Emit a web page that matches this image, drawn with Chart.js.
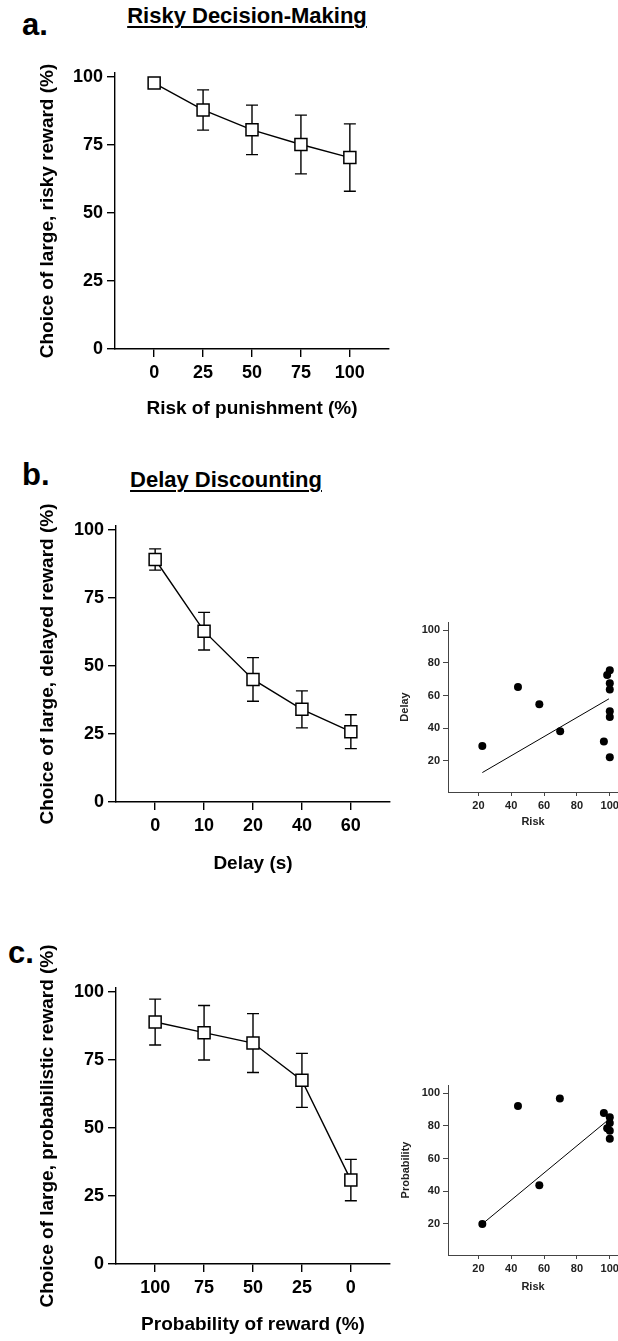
<!DOCTYPE html>
<html>
<head>
<meta charset="utf-8">
<script src="https://cdn.jsdelivr.net/npm/chart.js@4.4.1/dist/chart.umd.min.js"></script>
<style>
  html, body { margin: 0; padding: 0; background: #fff; width: 618px; height: 1341px; overflow: hidden; position: relative; }
  body { font-family: 'Liberation Sans', Arial, sans-serif; }
  canvas { position: absolute; }
  .lbl { position: absolute; font-weight: bold; line-height: 1; white-space: nowrap; color: #000; }
  .panel { font-size: 31px; }
  .title { font-size: 22px; text-decoration: underline; text-decoration-thickness: 2px; text-underline-offset: 3px; transform: translateX(-50%); }
</style>
</head>
<body>
<div class="lbl panel" style="left:22px;top:9px">a.</div>
<div class="lbl title" style="left:247px;top:5px">Risky Decision-Making</div>
<div class="lbl panel" style="left:22px;top:459px">b.</div>
<div class="lbl title" style="left:226px;top:469px">Delay Discounting</div>
<div class="lbl panel" style="left:8px;top:937px">c.</div>

<canvas id="risk-chart" width="400" height="380" style="left:0;top:50px"></canvas>
<canvas id="delay-chart" width="400" height="380" style="left:0;top:500px"></canvas>
<canvas id="prob-chart" width="400" height="401" style="left:0;top:940px"></canvas>
<canvas id="delay-scatter" width="250" height="230" style="left:390px;top:610px"></canvas>
<canvas id="prob-scatter" width="250" height="230" style="left:390px;top:1075px"></canvas>

<script>
const Y_TICKS = [0, 25, 50, 75, 100];

const RISK_LABELS = ['0', '25', '50', '75', '100'];
const RISK_MEAN = [97.8, 87.9, 80.6, 75.2, 70.4];
const RISK_SEM = [1.0, 7.4, 9.1, 10.8, 12.4];

const DELAY_LABELS = ['0', '10', '20', '40', '60'];
const DELAY_MEAN = [89.0, 62.7, 45.0, 34.0, 25.8];
const DELAY_SEM = [3.9, 6.9, 8.0, 6.8, 6.2];

const PROB_LABELS = ['100', '75', '50', '25', '0'];
const PROB_MEAN = [88.8, 84.9, 81.1, 67.4, 30.8];
const PROB_SEM = [8.4, 10.0, 10.8, 9.9, 7.6];

// scatter insets: risk score vs delay / probability score
const SCATTER_TICKS = [20, 40, 60, 80, 100];
const DELAY_RISK_X = [22.4, 44.1, 57.1, 69.8, 96.4, 98.4, 100, 100, 100, 100, 100, 100];
const DELAY_RISK_Y = [29.2, 65.3, 54.7, 38.2, 31.9, 72.6, 75.5, 67.6, 63.7, 50.4, 46.9, 22.3];
const DELAY_FIT_X = [22.4, 99.5];
const DELAY_FIT_Y = [12.9, 58.0];

const PROB_RISK_X = [22.4, 44.1, 69.6, 57.1, 96.4, 100, 100, 98.4, 100, 100];
const PROB_RISK_Y = [20.0, 92.2, 96.7, 43.6, 87.8, 85.3, 81.7, 78.6, 77.0, 72.1];
const PROB_FIT_X = [22.4, 99.5];
const PROB_FIT_Y = [20.0, 84.0];

const FONT = "'Liberation Sans', Arial, sans-serif";
Chart.defaults.font.family = FONT;
Chart.defaults.color = '#000';

const errorBars = {
  id: 'errorBars',
  beforeDatasetsDraw(chart, args, opts) {
    if (!opts.sem) return;
    const { ctx, scales: { x, y } } = chart;
    const pts = chart.data.datasets[0].data;
    ctx.save();
    ctx.strokeStyle = '#000';
    ctx.lineWidth = 1.4;
    pts.forEach((p, i) => {
      const px = x.getPixelForValue(p.x);
      const top = y.getPixelForValue(p.y + opts.sem[i]);
      const bot = y.getPixelForValue(p.y - opts.sem[i]);
      ctx.beginPath();
      ctx.moveTo(px, top); ctx.lineTo(px, bot);
      ctx.moveTo(px - 6, top); ctx.lineTo(px + 6, top);
      ctx.moveTo(px - 6, bot); ctx.lineTo(px + 6, bot);
      ctx.stroke();
    });
    ctx.restore();
  },
};

function lineChart(id, labels, means, sem, xTitle, yTitle, geo) {
  const tickFont = { size: 18, weight: 'bold' };
  const titleFont = { size: 19, weight: 'bold' };
  new Chart(document.getElementById(id), {
    type: 'line',
    data: {
      datasets: [{
        data: means.map((v, i) => ({ x: i, y: v })),
        borderColor: '#000',
        borderWidth: 1.4,
        tension: 0,
        pointStyle: 'rect',
        pointRadius: 8.5,
        pointBorderWidth: 1.5,
        pointBackgroundColor: '#fff',
        pointBorderColor: '#000',
      }],
    },
    options: {
      responsive: false,
      animation: false,
      devicePixelRatio: 1,
      layout: { padding: { left: 0, right: geo.right, top: geo.top, bottom: 0 } },
      plugins: { legend: { display: false }, tooltip: { enabled: false }, errorBars: { sem } },
      scales: {
        x: {
          type: 'linear',
          min: -0.8,
          max: 4.8,
          afterBuildTicks: (s) => { s.ticks = labels.map((_, i) => ({ value: i })); },
          afterFit: (s) => { s.height = geo.xh; s.paddingLeft = 0; s.paddingRight = 0; },
          ticks: { callback: (v) => labels[v], font: tickFont, color: '#000', padding: 5, maxRotation: 0, autoSkip: false },
          grid: { drawOnChartArea: false, tickLength: 8, color: '#000', lineWidth: 1.4 },
          border: { color: '#000', width: 1.4 },
          title: { display: true, text: xTitle, font: titleFont, color: '#000', padding: { top: 0, bottom: geo.xpad } },
        },
        y: {
          min: 0,
          max: geo.ymax,
          afterBuildTicks: (s) => { s.ticks = Y_TICKS.map((v) => ({ value: v })); },
          afterFit: (s) => { s.width = geo.yw; },
          ticks: { font: tickFont, color: '#000', padding: 4 },
          grid: { drawOnChartArea: false, tickLength: 8, color: '#000', lineWidth: 1.4 },
          border: { color: '#000', width: 1.4 },
          title: { display: true, text: yTitle, font: titleFont, color: '#000', padding: { top: 36, bottom: 0 } },
        },
      },
    },
    plugins: [errorBars],
  });
}

function scatterChart(id, xs, ys, fitX, fitY, yTitle, geo) {
  const tickFont = { size: 11, weight: 'bold' };
  new Chart(document.getElementById(id), {
    type: 'scatter',
    data: {
      datasets: [
        {
          data: xs.map((x, i) => ({ x, y: ys[i] })),
          pointRadius: 4,
          pointBackgroundColor: '#000',
          pointBorderColor: '#000',
          pointBorderWidth: 0,
        },
        {
          data: fitX.map((x, i) => ({ x, y: fitY[i] })),
          showLine: true,
          borderColor: '#000',
          borderWidth: 1,
          pointRadius: 0,
        },
      ],
    },
    options: {
      responsive: false,
      animation: false,
      devicePixelRatio: 1,
      layout: { padding: { left: 0, right: 22, top: geo.top, bottom: 0 } },
      plugins: { legend: { display: false }, tooltip: { enabled: false } },
      scales: {
        x: {
          min: 1.5,
          max: 105,
          afterBuildTicks: (s) => { s.ticks = SCATTER_TICKS.map((v) => ({ value: v })); },
          afterFit: (s) => { s.height = geo.xh; s.paddingLeft = 0; s.paddingRight = 0; },
          ticks: { font: tickFont, color: '#222', padding: 3, maxRotation: 0, autoSkip: false },
          grid: { drawOnChartArea: false, tickLength: 4, color: '#444', lineWidth: 1 },
          border: { color: '#444', width: 1 },
          title: { display: true, text: 'Risk', font: tickFont, color: '#222', padding: { top: 0, bottom: geo.xpad } },
        },
        y: {
          min: 1,
          max: 105,
          afterBuildTicks: (s) => { s.ticks = SCATTER_TICKS.map((v) => ({ value: v })); },
          afterFit: (s) => { s.width = 58; },
          ticks: { font: tickFont, color: '#222', padding: 3 },
          grid: { drawOnChartArea: false, tickLength: 5, color: '#444', lineWidth: 1 },
          border: { color: '#444', width: 1 },
          title: { display: true, text: yTitle, font: tickFont, color: '#222', padding: { top: geo.ypad, bottom: 0 } },
        },
      },
    },
  });
}

lineChart('risk-chart', RISK_LABELS, RISK_MEAN, RISK_SEM,
  'Risk of punishment (%)', 'Choice of large, risky reward (%)',
  { top: 23, right: 11, xh: 81, xpad: 10, yw: 115, ymax: 101.5 });
lineChart('delay-chart', DELAY_LABELS, DELAY_MEAN, DELAY_SEM,
  'Delay (s)', 'Choice of large, delayed reward (%)',
  { top: 26, right: 8, xh: 78, xpad: 5, yw: 116, ymax: 101.3 });
lineChart('prob-chart', PROB_LABELS, PROB_MEAN, PROB_SEM,
  'Probability of reward (%)', 'Choice of large, probabilistic reward (%)',
  { top: 48, right: 8, xh: 77, xpad: 5, yw: 116, ymax: 101.3 });

scatterChart('delay-scatter', DELAY_RISK_X, DELAY_RISK_Y, DELAY_FIT_X, DELAY_FIT_Y, 'Delay',
  { top: 12, xh: 48, xpad: 11, ypad: 8 });
scatterChart('prob-scatter', PROB_RISK_X, PROB_RISK_Y, PROB_FIT_X, PROB_FIT_Y, 'Probability',
  { top: 10, xh: 50, xpad: 11, ypad: 9 });
</script>
</body>
</html>
